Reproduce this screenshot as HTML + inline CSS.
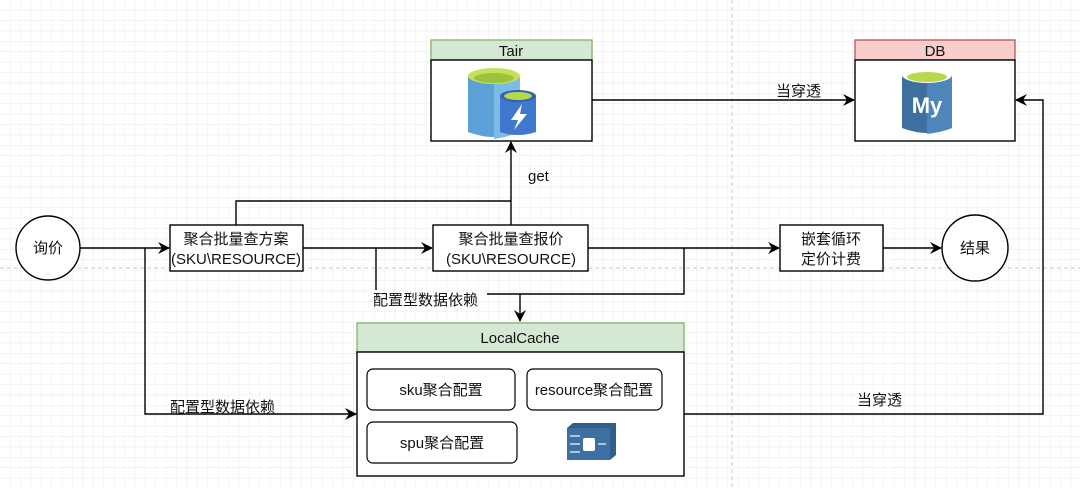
<!DOCTYPE html>
<html><head><meta charset="utf-8"><style>
html,body{margin:0;padding:0;background:#fff}
svg{display:block}
text{font-family:"Liberation Sans","Noto Sans CJK SC",sans-serif;font-size:15px;fill:#111}
</style></head><body>
<svg width="1080" height="488" viewBox="0 0 1080 488" xmlns="http://www.w3.org/2000/svg">
<defs>
<pattern id="g" width="10.4" height="10.4" patternUnits="userSpaceOnUse"><path d="M10.4 0V10.4H0" fill="none" stroke="#e9e9e9" stroke-width="1"/></pattern>
<marker id="a" markerWidth="12" markerHeight="12" refX="11" refY="6" orient="auto" markerUnits="userSpaceOnUse"><path d="M0,0 L12,6 L0,12 L4,6 Z" fill="#000"/></marker>
</defs>
<rect width="1080" height="488" fill="url(#g)"/>
<line x1="0" y1="268" x2="1080" y2="268" stroke="#c8c8c8" stroke-dasharray="4,3"/>
<line x1="732" y1="0" x2="732" y2="488" stroke="#c8c8c8" stroke-dasharray="4,3"/>

<g stroke="#000" stroke-width="1.4" fill="none">
<line x1="80" y1="248" x2="169" y2="248" marker-end="url(#a)"/>
<polyline points="145,248 145,414 356,414" marker-end="url(#a)"/>
<line x1="303" y1="248" x2="432" y2="248" marker-end="url(#a)"/>
<line x1="376" y1="248" x2="376" y2="290"/>
<line x1="588" y1="248" x2="779" y2="248" marker-end="url(#a)"/>
<polyline points="684,248 684,294 487,294"/>
<line x1="520" y1="294" x2="520" y2="321" marker-end="url(#a)"/>
<polyline points="236,225 236,201 511,201"/>
<line x1="511" y1="225" x2="511" y2="142" marker-end="url(#a)"/>
<line x1="592" y1="100" x2="854" y2="100" marker-end="url(#a)"/>
<polyline points="684,414 1043,414 1043,100 1016,100" marker-end="url(#a)"/>
<line x1="883" y1="248" x2="941" y2="248" marker-end="url(#a)"/>
</g>

<circle cx="48" cy="248" r="32" fill="#fff" stroke="#000" stroke-width="1.4"/>
<text x="48" y="253" text-anchor="middle">询价</text>
<circle cx="975" cy="248" r="33" fill="#fff" stroke="#000" stroke-width="1.4"/>
<text x="975" y="253" text-anchor="middle">结果</text>

<rect x="170" y="225" width="133" height="46" fill="#fff" stroke="#000" stroke-width="1.4"/>
<text x="236" y="244" text-anchor="middle">聚合批量查方案</text>
<text x="236" y="264" text-anchor="middle">(SKU\RESOURCE)</text>
<rect x="433" y="225" width="155" height="46" fill="#fff" stroke="#000" stroke-width="1.4"/>
<text x="511" y="244" text-anchor="middle">聚合批量查报价</text>
<text x="511" y="264" text-anchor="middle">(SKU\RESOURCE)</text>
<rect x="780" y="225" width="103" height="46" fill="#fff" stroke="#000" stroke-width="1.4"/>
<text x="831" y="244" text-anchor="middle">嵌套循环</text>
<text x="831" y="264" text-anchor="middle">定价计费</text>

<text x="373" y="305">配置型数据依赖</text>
<text x="170" y="412">配置型数据依赖</text>
<text x="528" y="181">get</text>
<text x="776" y="96">当穿透</text>
<text x="857" y="405">当穿透</text>

<rect x="431" y="40" width="161" height="20" fill="#d5e8d4" stroke="#82b366" stroke-width="1.3"/>
<text x="511" y="56" text-anchor="middle">Tair</text>
<rect x="431" y="60" width="161" height="81" fill="#fff" stroke="#000" stroke-width="1.4"/>
<path d="M468,76 V132 Q494,142 520,132 V76 Z" fill="#5ba3d6"/>
<path d="M494,78 V139 Q508,137 520,132 V76 Z" fill="#7dbbe4"/>
<ellipse cx="494" cy="76" rx="26" ry="8" fill="#c6e05a"/>
<ellipse cx="494" cy="78" rx="20" ry="5" fill="#9cc23a"/>
<path d="M500,96 V132 Q518,138 536,132 V96 Z" fill="#3f78cc"/>
<ellipse cx="518" cy="96" rx="18" ry="6" fill="#2f64b3"/>
<ellipse cx="518" cy="96" rx="14" ry="4" fill="#b6d84a"/>
<path d="M522,104 L511,120 L518,120 L514,130 L527,114 L520,114 Z" fill="#fff"/>

<rect x="855" y="40" width="160" height="20" fill="#f8cecc" stroke="#b85450" stroke-width="1.3"/>
<text x="935" y="56" text-anchor="middle">DB</text>
<rect x="855" y="60" width="160" height="81" fill="#fff" stroke="#000" stroke-width="1.4"/>
<path d="M902,75 V128 Q928,138 952,128 V75 Z" fill="#3f6f9e"/>
<path d="M927,80 V134 Q942,132 952,128 V75 Z" fill="#4f86ba"/>
<ellipse cx="927" cy="75" rx="25" ry="8" fill="#fff"/>
<ellipse cx="927" cy="77" rx="20" ry="5" fill="#b6d84a"/>
<text x="927" y="113" text-anchor="middle" style="font-size:22px;font-weight:bold;fill:#fff">My</text>

<rect x="357" y="323" width="327" height="29" fill="#d5e8d4" stroke="#82b366" stroke-width="1.3"/>
<text x="520" y="343" text-anchor="middle">LocalCache</text>
<rect x="357" y="352" width="327" height="124" fill="#fff" stroke="#000" stroke-width="1.4"/>
<rect x="367" y="369" width="148" height="41" rx="6" fill="#fff" stroke="#000" stroke-width="1.2"/>
<text x="441" y="395" text-anchor="middle">sku聚合配置</text>
<rect x="527" y="369" width="135" height="41" rx="6" fill="#fff" stroke="#000" stroke-width="1.2"/>
<text x="594" y="395" text-anchor="middle">resource聚合配置</text>
<rect x="367" y="422" width="150" height="41" rx="6" fill="#fff" stroke="#000" stroke-width="1.2"/>
<text x="442" y="448" text-anchor="middle">spu聚合配置</text>
<path d="M567,428 L573,423 L616,423 L616,455 L610,460 L567,460 Z" fill="#2f5f8f"/>
<rect x="567" y="428" width="43" height="32" fill="#3d6fa3"/>
<g stroke="#fff" stroke-width="1.2" fill="none">
<line x1="570" y1="436" x2="580" y2="436"/><line x1="570" y1="444" x2="580" y2="444"/><line x1="570" y1="452" x2="580" y2="452"/>
<line x1="598" y1="444" x2="606" y2="444"/>
</g>
<rect x="583" y="438" width="12" height="13" rx="2" fill="#fff"/>
</svg>
</body></html>
